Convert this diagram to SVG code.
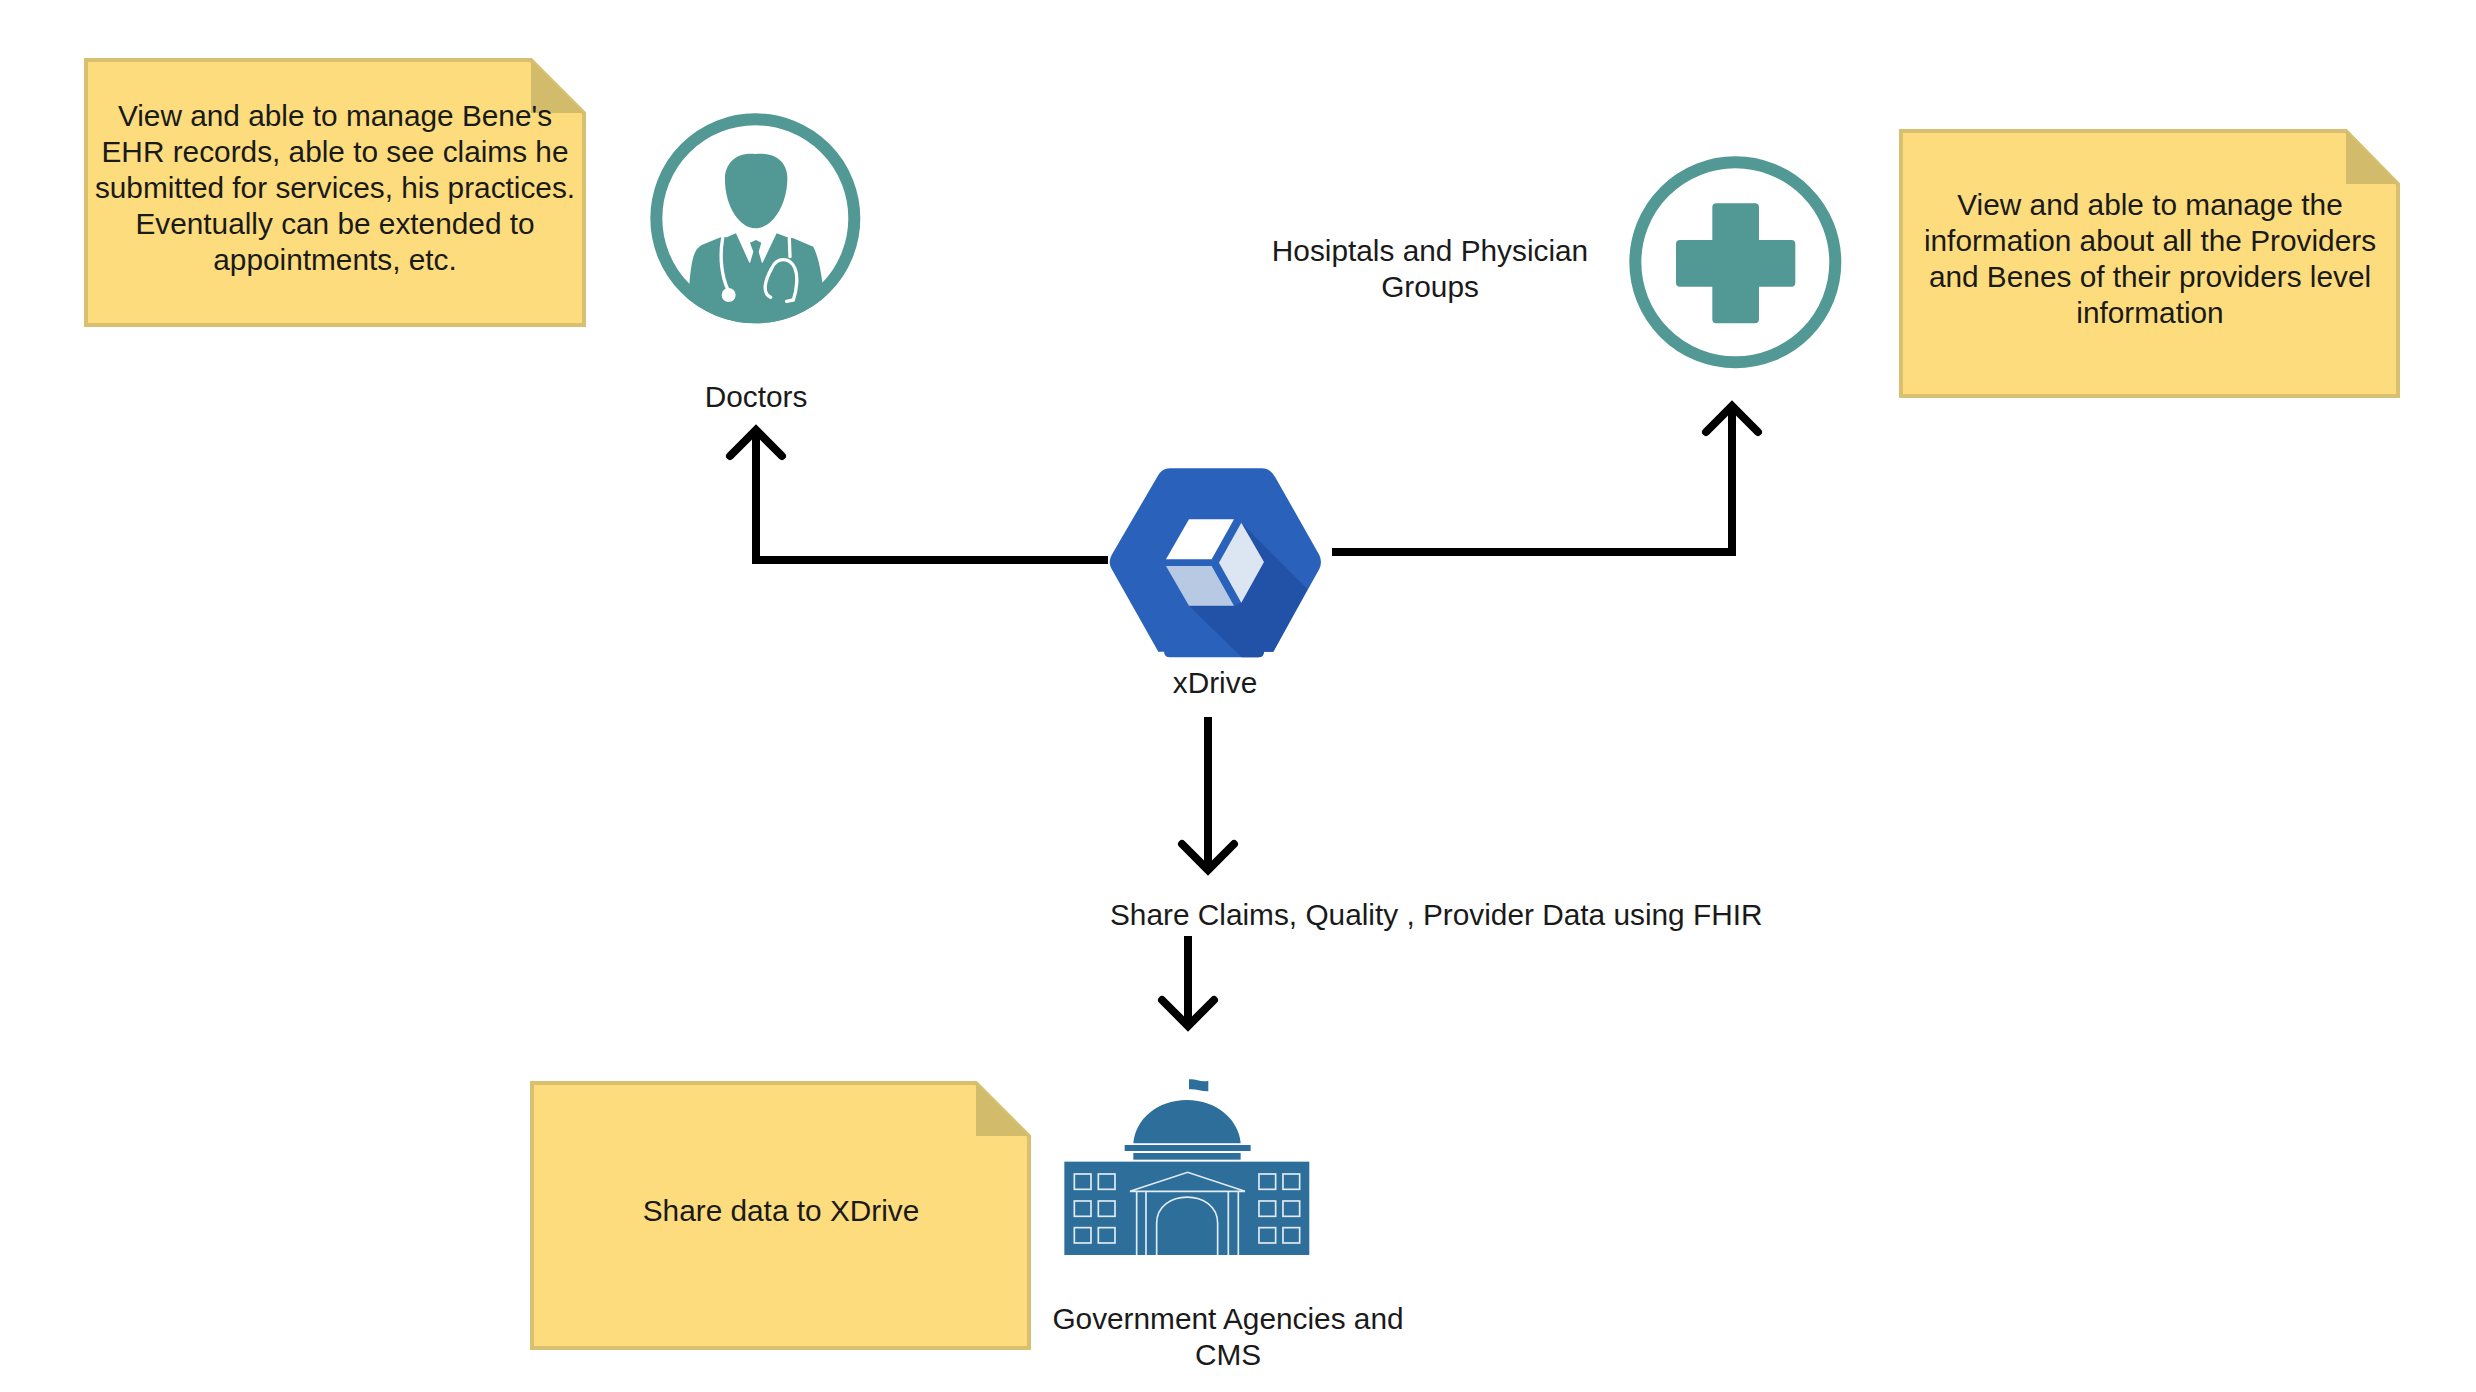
<svg xmlns="http://www.w3.org/2000/svg" width="2476" height="1392" viewBox="0 0 2476 1392">
<style>
text{font-family:"Liberation Sans",Arial,sans-serif;font-size:29.8px;fill:#1a1a1a;text-anchor:middle}
.note{fill:#fcdc7c;stroke:#d8c070;stroke-width:4}
.fold{fill:#d2bc6b}
.teal{fill:#529894}
.ring{fill:none;stroke:#529894;stroke-width:36}
.conn{fill:none;stroke:#000;stroke-width:8}
.head{fill:none;stroke:#000;stroke-width:8;stroke-linecap:round;stroke-linejoin:miter}
.bw{fill:none;stroke:#e2ecf3;stroke-width:5}
.bf{fill:#2e6e9b}
.sw{fill:none;stroke:#fff;stroke-width:10;stroke-linecap:round}
</style>
<defs><clipPath id="docClip"><circle cx="376" cy="355" r="315"/></clipPath></defs>
<rect width="2476" height="1392" fill="#fff"/>
<g id="connectors">
<path class="conn" d="M1108 560H756V432"/>
<path class="head" d="M730 456L756 430L782 456"/>
<path class="conn" d="M1332 552H1732V408"/>
<path class="head" d="M1706 432L1732 406L1758 432"/>
<path class="conn" d="M1208 717V868"/>
<path class="head" d="M1182 844L1208 870L1234 844"/>
<path class="conn" d="M1188 936V1024"/>
<path class="head" d="M1162 1000L1188 1026L1214 1000"/>
</g>
<g id="note-doctors">
<path class="note" d="M86 60H531L584 113V325H86Z"/>
<path class="fold" d="M531 60L584 113H531Z"/>
<text x="335" y="126">View and able to manage Bene's</text>
<text x="335" y="162">EHR records, able to see claims he</text>
<text x="335" y="198">submitted for services, his practices.</text>
<text x="335" y="234">Eventually can be extended to</text>
<text x="335" y="270">appointments, etc.</text>
</g>
<g id="doctors">
<g transform="translate(630,100) scale(.3333)">
<circle class="ring" cx="376" cy="355" r="297"/>
<path class="teal" d="M376 162C440 155 475 190 472 240C470 320 425 385 376 385C330 385 285 320 285 240C283 190 320 155 376 162Z"/>
<g clip-path="url(#docClip)">
<path class="teal" d="M178 552C185 480 190 450 215 435L272 412L290 412L318 400L358 488L398 488L440 400L472 412L490 415L550 440C565 470 572 510 578 552L640 720H110Z"/>
<path class="teal" d="M360 428L378 420L394 428L386 455L396 490L378 520L360 490L370 455Z"/>
</g>
<path class="sw" d="M278 415C268 470 275 530 294 570"/>
<circle cx="296" cy="585" r="21" fill="#fff"/>
<path class="sw" d="M478 415L480 470M422 592C395 580 405 540 425 505C440 470 480 470 495 505C505 530 500 570 490 600L470 604"/>
</g>
<text x="756" y="407">Doctors</text>
</g>
<g id="hospitals">
<g transform="translate(1600,140) scale(.3333)">
<circle class="ring" cx="406" cy="367" r="300"/>
<path class="teal" d="M349 190H465Q477 190 477 202V300H574Q586 300 586 312V428Q586 440 574 440H477V538Q477 550 465 550H349Q337 550 337 538V440H240Q228 440 228 428V312Q228 300 240 300H337V202Q337 190 349 190Z"/>
</g>
<text x="1430" y="261">Hosiptals and Physician</text>
<text x="1430" y="297">Groups</text>
</g>
<g id="note-hospitals">
<path class="note" d="M1901 131H2346L2398 184V396H1901Z"/>
<path class="fold" d="M2346 131L2398 184H2346Z"/>
<text x="2150" y="215">View and able to manage the</text>
<text x="2150" y="251">information about all the Providers</text>
<text x="2150" y="287">and Benes of their providers level</text>
<text x="2150" y="323">information</text>
</g>
<g id="xdrive">
<g transform="translate(1070,440) scale(.3333)">
<path fill="#2a62bb" d="M300 85H575Q600 85 615 110L748 345Q758 366 748 387L610 635H582Q581 652 565 652H300Q283 652 282 635H265L125 387Q113 366 125 345L262 110Q275 85 300 85Z"/>
<path fill="#2251a8" d="M514 248L712 447L610 635H582Q581 652 565 652H515L357 497H492L514 488Z"/>
<path fill="#fff" d="M357 238H492L425 358H288Z"/>
<path fill="#dce6f2" d="M514 248L582 366L514 488L447 368Z"/>
<path fill="#b8cae3" d="M288 378H425L492 497H357Z"/>
</g>
<text x="1215" y="693">xDrive</text>
</g>
<text id="share-label" x="1110" y="925" style="text-anchor:start">Share Claims, Quality , Provider Data using FHIR</text>
<g id="note-share">
<path class="note" d="M532 1083H976L1029 1136V1348H532Z"/>
<path class="fold" d="M976 1083L1029 1136H976Z"/>
<text x="781" y="1221">Share data to XDrive</text>
</g>
<g id="government">
<g transform="translate(1040,1060) scale(.3333)">
<path class="bf" d="M447 58C465 55 485 68 505 62V94C485 95 465 85 447 88Z"/>
<path class="bf" d="M280 250C285 180 350 120 441 120C530 120 597 180 602 250Z"/>
<rect class="bf" x="254" y="255" width="378" height="18"/>
<rect class="bf" x="280" y="279" width="322" height="20"/>
<rect class="bf" x="73" y="305" width="735" height="280"/>
<g class="bw">
<rect x="103" y="342" width="50" height="46"/><rect x="175" y="342" width="50" height="46"/><rect x="657" y="342" width="50" height="46"/><rect x="729" y="342" width="50" height="46"/>
<rect x="103" y="423" width="50" height="46"/><rect x="175" y="423" width="50" height="46"/><rect x="657" y="423" width="50" height="46"/><rect x="729" y="423" width="50" height="46"/>
<rect x="103" y="503" width="50" height="46"/><rect x="175" y="503" width="50" height="46"/><rect x="657" y="503" width="50" height="46"/><rect x="729" y="503" width="50" height="46"/>
<path d="M270 394L443 337L615 394Z"/>
<path d="M290 394V585M318 394V585M565 394V585M595 394V585"/>
<path d="M350 585V490C350 385 533 385 533 490V585"/>
</g>
</g>
<text x="1228" y="1329">Government Agencies and</text>
<text x="1228" y="1365">CMS</text>
</g>
</svg>
